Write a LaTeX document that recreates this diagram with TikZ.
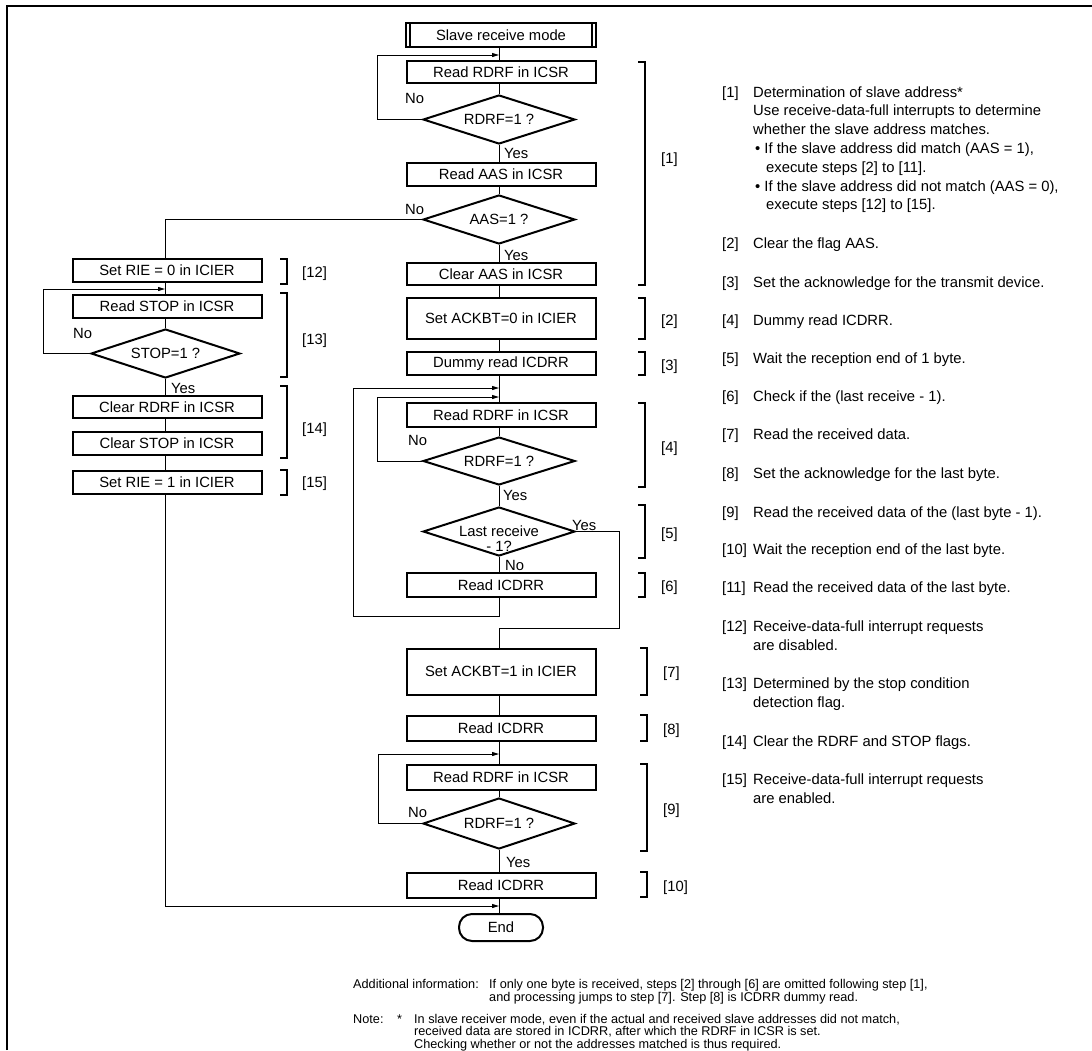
\documentclass[tikz,border=0pt]{standalone}
\usepackage{fontspec}
\setmainfont{Liberation Sans}
\usetikzlibrary{shapes.geometric,arrows.meta}
\newcommand\ffl{\fontsize{14.8}{16}\selectfont}
\newcommand\frt{\fontsize{14.8}{16}\selectfont}
\newcommand\fbt{\fontsize{12.7}{13}\selectfont}
\newcommand\brkt[3]{\draw[brk] (#1-7,#2) -- (#1,#2) -- (#1,#3) -- (#1-7,#3);}
\begin{document}
\begin{tikzpicture}[x=1pt,y=-1pt,
 box/.style={draw, line width=2pt, minimum width=189pt, inner sep=0pt, font=\ffl},
 dia/.style={diamond, draw, line width=2pt, minimum width=152pt, minimum height=49pt, inner sep=0pt},
 conn/.style={line width=0.9pt},
 arr/.style={line width=0.9pt, -{Triangle[length=7pt,width=4pt]}},
 lab/.style={font=\ffl, anchor=base west, inner sep=0pt},
 rt/.style={font=\frt, anchor=base west, inner sep=0pt},
 bt/.style={font=\fbt, anchor=base west, inner sep=0pt},
 brk/.style={line width=1.2pt}]
\useasboundingbox (0,0) rectangle (1092,1050);
% frame
\draw[line width=2pt] (7,1050) -- (7,6) -- (1092,6);

% main column
\node[box, minimum width=190pt, minimum height=24pt] (start) at (501,35) {Slave receive mode};
\draw[line width=2pt] ([xshift=5pt]start.north west) -- ([xshift=5pt]start.south west);
\draw[line width=2pt] ([xshift=-5pt]start.north east) -- ([xshift=-5pt]start.south east);
\node[box, minimum height=22pt] (r1) at (501,72) {Read RDRF in ICSR};
\node[dia, label={[font=\ffl]center:RDRF=1 ?}] (d1) at (499,119.5) {};
\node[box, minimum height=23pt] (r2) at (501,174.5) {Read AAS in ICSR};
\node[dia, label={[font=\ffl]center:AAS=1 ?}] (d2) at (499,219.5) {};
\node[box, minimum height=22pt] (r3) at (501,274) {Clear AAS in ICSR};
\node[box, minimum height=41pt] (r4) at (501,318.5) {Set ACKBT=0 in ICIER};
\node[box, minimum height=23pt] (r5) at (501,363.5) {Dummy read ICDRR};
\node[box, minimum height=24pt] (r6) at (501,415) {Read RDRF in ICSR};
\node[dia, minimum height=48pt, label={[font=\ffl]center:RDRF=1 ?}] (d3) at (499,461) {};
\node[dia, label={[font=\fontsize{14.8}{15.5}\selectfont, align=center, yshift=-7pt]center:Last receive\\- 1?}] (d4) at (499,531.5) {};
\node[box, minimum height=24pt] (r7) at (501,585) {Read ICDRR};
\node[box, minimum height=46pt] (r8) at (501,671.5) {Set ACKBT=1 in ICIER};
\node[box, minimum height=25pt] (r9) at (501,728) {Read ICDRR};
\node[box, minimum height=25pt] (r10) at (501,777.5) {Read RDRF in ICSR};
\node[dia, minimum height=51pt, label={[font=\ffl]center:RDRF=1 ?}] (d5) at (499,823.5) {};
\node[box, minimum height=25pt] (r11) at (501,885) {Read ICDRR};
\node[draw, line width=2pt, rounded corners=13pt, minimum width=84pt, minimum height=27pt, inner sep=0pt, font=\ffl] (end) at (501,927.5) {End};

% left column
\node[box, minimum height=23pt] (l1) at (167,270.5) {Set RIE = 0 in ICIER};
\node[box, minimum height=23pt] (l2) at (167,306.5) {Read STOP in ICSR};
\node[dia, minimum width=149pt, label={[font=\ffl]center:STOP=1 ?}] (ld) at (165.5,353.5) {};
\node[box, minimum height=22pt] (l3) at (167,407) {Clear RDRF in ICSR};
\node[box, minimum height=23pt] (l4) at (167,443.5) {Clear STOP in ICSR};
\node[box, minimum height=23pt] (l5) at (167,482) {Set RIE = 1 in ICIER};

% junction points
\coordinate (j1) at (499,55);
\coordinate (j12) at (165,289);
\coordinate (j4) at (499,388);
\coordinate (j5) at (499,397);
\coordinate (j7) at (499,754);
\coordinate (j9) at (499,906);

% spine connectors
\draw[conn] (start.south -| d1) -- (r1.north -| d1);
\draw[conn] (r1.south -| d1) -- (d1.north);
\draw[conn] (d1.south) -- (r2.north -| d1);
\draw[conn] (r2.south -| d1) -- (d2.north);
\draw[conn] (d2.south) -- (r3.north -| d1);
\draw[conn] (r3.south -| d1) -- (r4.north -| d1);
\draw[conn] (r4.south -| d1) -- (r5.north -| d1);
\draw[conn] (r5.south -| d1) -- (r6.north -| d1);
\draw[conn] (r6.south -| d1) -- (d3.north);
\draw[conn] (d3.south) -- (d4.north);
\draw[conn] (d4.south) -- (r7.north -| d1);
\draw[conn] (d4.east) -| (619,628) -| (r8.north -| d1);
\draw[conn] (r8.south -| d1) -- (r9.north -| d1);
\draw[conn] (r9.south -| d1) -- (r10.north -| d1);
\draw[conn] (r10.south -| d1) -- (d5.north);
\draw[conn] (d5.south) -- (r11.north -| d1);
\draw[conn] (r11.south -| d1) -- (end.north -| d1);

% loops
\draw[arr] (d1.west) -| (377,55) -- (j1);
\draw[arr] (d3.west) -| (377,397) -- (j5);
\draw[arr] (r7.south -| d1) |- (353,616) |- (j4);
\draw[arr] (d5.west) -| (378,754) -- (j7);
\draw[conn] (d2.west) -| (l1.north -| ld);

% left connectors
\draw[conn] (l1.south -| ld) -- (l2.north -| ld);
\draw[conn] (l2.south -| ld) -- (ld.north);
\draw[conn] (ld.south) -- (l3.north -| ld);
\draw[conn] (l3.south -| ld) -- (l4.north -| ld);
\draw[conn] (l4.south -| ld) -- (l5.north -| ld);
\draw[arr] (ld.west) -| (43,289) -- (j12);
\draw[arr] (l5.south -| ld) |- (j9);

% yes / no labels
\node[lab] (n1) at (405,103) {No};
\node[lab] (y1) at (504,158) {Yes};
\node[lab] (n2) at (405,214) {No};
\node[lab] (y2) at (504,260) {Yes};
\node[lab] (n3) at (408,445) {No};
\node[lab] (y3) at (503,500) {Yes};
\node[lab] (y4) at (572,530) {Yes};
\node[lab] (n4) at (505,570) {No};
\node[lab] (n5) at (408,817) {No};
\node[lab] (y5) at (506,867) {Yes};
\node[lab] (n6) at (73,338) {No};
\node[lab] (y6) at (171,393) {Yes};

% brackets
\brkt{645}{62}{285}
\brkt{645}{298}{339}
\brkt{645}{352}{375}
\brkt{645}{403}{487}
\brkt{645}{505}{558}
\brkt{645}{573}{597}
\brkt{647}{648}{695}
\brkt{647}{715}{741}
\brkt{647}{764}{851}
\brkt{647}{872}{897}
\brkt{287}{259}{284}
\brkt{287}{293}{377}
\brkt{287}{386}{458}
\brkt{287}{470}{495}
\node[lab] (b1) at (661,163) {[1]};
\node[lab] (b2) at (661,325) {[2]};
\node[lab] (b3) at (661,370) {[3]};
\node[lab] (b4) at (661,452) {[4]};
\node[lab] (b5) at (661,538) {[5]};
\node[lab] (b6) at (661,591) {[6]};
\node[lab] (b7) at (663,677) {[7]};
\node[lab] (b8) at (663,734) {[8]};
\node[lab] (b9) at (663,814) {[9]};
\node[lab] (b10) at (663,891) {[10]};
\node[lab] (b12) at (302,277) {[12]};
\node[lab] (b13) at (302,344) {[13]};
\node[lab] (b14) at (302,433) {[14]};
\node[lab] (b15) at (302,487) {[15]};

% right-hand notes
\node[rt] (k1) at (722,97) {[1]};
\node[rt] (t1a) at (753,97) {Determination of slave address*};
\node[rt] (t1b) at (753,115.8) {Use receive-data-full interrupts to determine};
\node[rt] (t1c) at (753,134.6) {whether the slave address matches.};
\node[rt] (t1d) at (755,153.4) {\textbullet\ If the slave address did match (AAS = 1),};
\node[rt] (t1e) at (766,172.2) {execute steps [2] to [11].};
\node[rt] (t1f) at (755,191) {\textbullet\ If the slave address did not match (AAS = 0),};
\node[rt] (t1g) at (766,209.8) {execute steps [12] to [15].};
\node[rt] (k2) at (722,248) {[2]};
\node[rt] (t2) at (753,248) {Clear the flag AAS.};
\node[rt] (k3) at (722,287) {[3]};
\node[rt] (t3) at (753,287) {Set the acknowledge for the transmit device.};
\node[rt] (k4) at (722,325) {[4]};
\node[rt] (t4) at (753,325) {Dummy read ICDRR.};
\node[rt] (k5) at (722,363) {[5]};
\node[rt] (t5) at (753,363) {Wait the reception end of 1 byte.};
\node[rt] (k6) at (722,401) {[6]};
\node[rt] (t6) at (753,401) {Check if the (last receive - 1).};
\node[rt] (k7) at (722,439.5) {[7]};
\node[rt] (t7) at (753,439.5) {Read the received data.};
\node[rt] (k8) at (722,478) {[8]};
\node[rt] (t8) at (753,478) {Set the acknowledge for the last byte.};
\node[rt] (k9) at (722,517) {[9]};
\node[rt] (t9) at (753,517) {Read the received data of the (last byte - 1).};
\node[rt] (k10) at (722,554) {[10]};
\node[rt] (t10) at (753,554) {Wait the reception end of the last byte.};
\node[rt] (k11) at (722,592) {[11]};
\node[rt] (t11) at (753,592) {Read the received data of the last byte.};
\node[rt] (k12) at (722,631) {[12]};
\node[rt] (t12a) at (753,631) {Receive-data-full interrupt requests};
\node[rt] (t12b) at (753,650) {are disabled.};
\node[rt] (k13) at (722,688.5) {[13]};
\node[rt] (t13a) at (753,688.5) {Determined by the stop condition};
\node[rt] (t13b) at (753,707) {detection flag.};
\node[rt] (k14) at (722,746) {[14]};
\node[rt] (t14) at (753,746) {Clear the RDRF and STOP flags.};
\node[rt] (k15) at (722,784.5) {[15]};
\node[rt] (t15a) at (753,784.5) {Receive-data-full interrupt requests};
\node[rt] (t15b) at (753,803) {are enabled.};

% bottom notes
\node[bt] (a0) at (353,988) {Additional information:};
\node[bt] (a1) at (489,988) {If only one byte is received, steps [2] through [6] are omitted following step [1],};
\node[bt] (a2) at (489,1001) {and processing jumps to step [7]. Step [8] is ICDRR dummy read.};
\node[bt] (m0) at (353,1023) {Note:};
\node[bt] (m1) at (397,1023) {*};
\node[bt] (m2) at (414,1023) {In slave receiver mode, even if the actual and received slave addresses did not match,};
\node[bt] (m3) at (414,1035.5) {received data are stored in ICDRR, after which the RDRF in ICSR is set.};
\node[bt] (m4) at (414,1048) {Checking whether or not the addresses matched is thus required.};
\end{tikzpicture}
\end{document}
